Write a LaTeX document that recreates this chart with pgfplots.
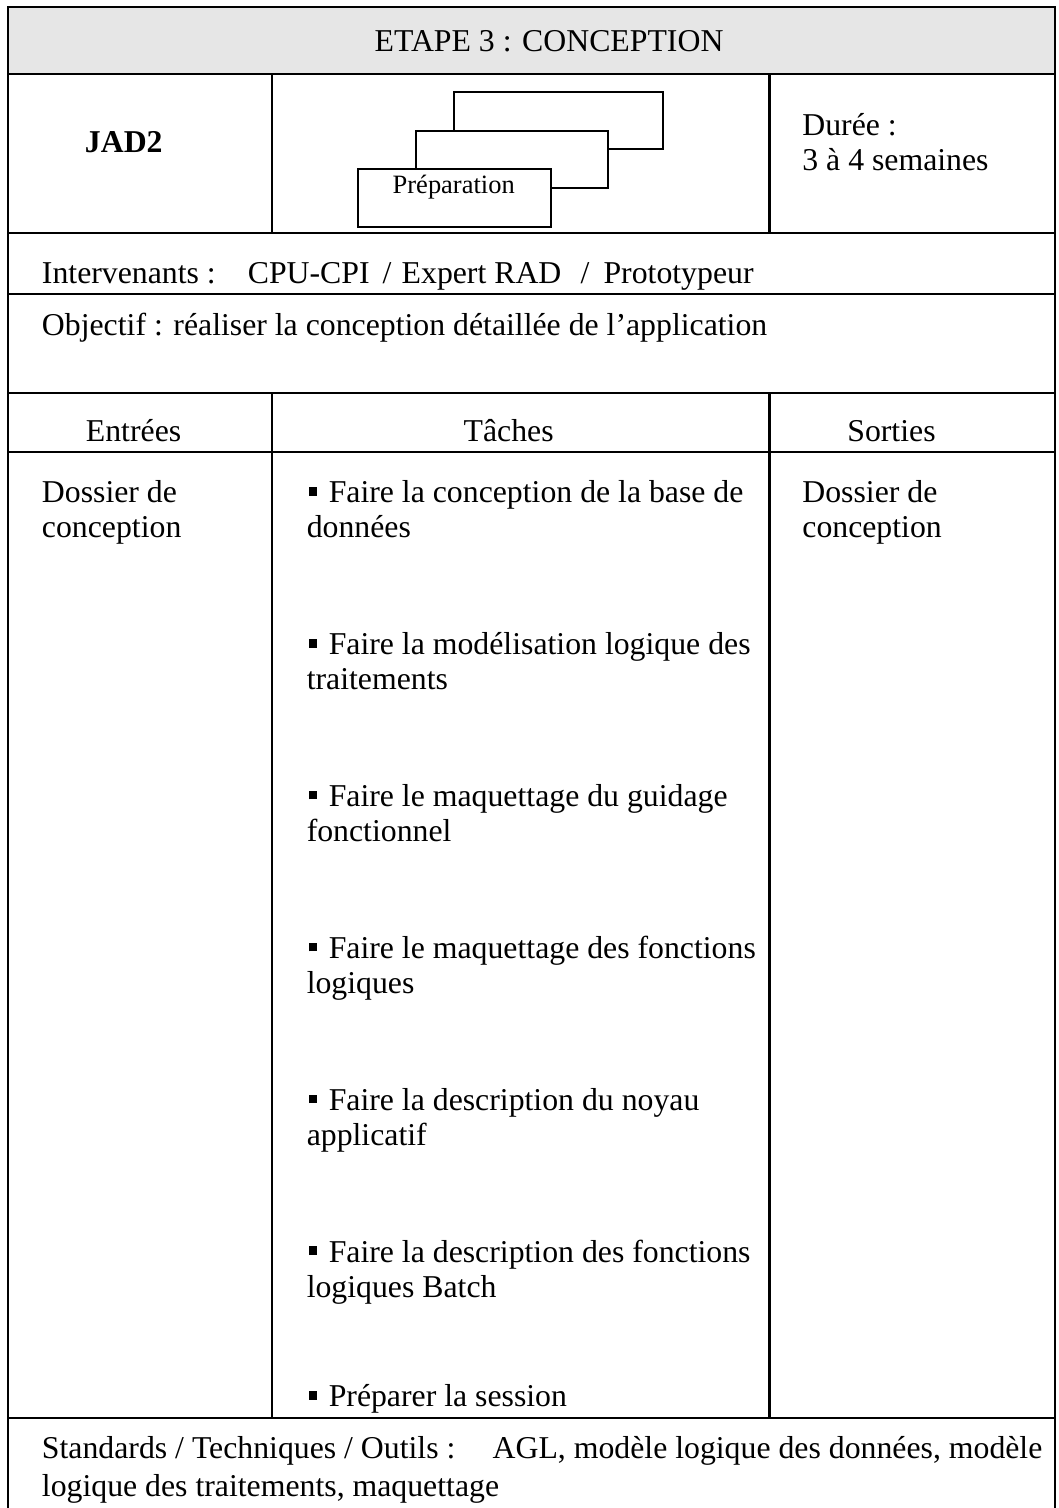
\documentclass[border=0pt]{standalone}
\usepackage{pgfplots}
\pgfplotsset{compat=1.18}
\usepackage{fontspec}
\setmainfont{Liberation Serif}
\definecolor{hdr}{RGB}{230,230,230}
\newcommand{\bul}{\raisebox{0.22em}{\rule{0.27em}{0.27em}}}
\tikzset{t/.style={anchor=base west, inner sep=0pt, outer sep=0pt, font=\fontsize{15.9}{17.5}\selectfont}}
\begin{document}
\fontsize{15.9}{17.5}\selectfont
\begin{tikzpicture}
\begin{axis}[
  width=529.5pt, height=754pt, scale only axis,
  xmin=0, xmax=1059, ymin=0, ymax=1508, y dir=reverse,
  hide axis, clip=false,
]
\path (axis cs:0,0) rectangle (axis cs:1059,1508);
% header
\fill[hdr] (axis cs:8,7) rectangle (axis cs:1056,74);
% table lines
\begin{scope}[line width=1.15pt, line cap=rect]
\draw (axis cs:8,1508) -- (axis cs:8,7) -- (axis cs:1056,7) -- (axis cs:1056,1508);
\draw (axis cs:8,74) -- (axis cs:1056,74);
\draw (axis cs:8,233) -- (axis cs:1056,233);
\draw (axis cs:8,294) -- (axis cs:1056,294);
\draw (axis cs:8,393) -- (axis cs:1056,393);
\draw (axis cs:8,452) -- (axis cs:1056,452);
\draw (axis cs:8,1419) -- (axis cs:1056,1419);
\draw (axis cs:272,74) -- (axis cs:272,233);
\draw (axis cs:770,74) -- (axis cs:770,233);
\draw (axis cs:272,393) -- (axis cs:272,1419);
\draw (axis cs:770,393) -- (axis cs:770,1419);
\end{scope}
% stacked rectangles
\begin{scope}[line width=1pt]
\filldraw[fill=white] (axis cs:454,92) rectangle (axis cs:664,149);
\filldraw[fill=white] (axis cs:416,131) rectangle (axis cs:608,188);
\filldraw[fill=white] (axis cs:358,169) rectangle (axis cs:551,227);
\end{scope}
\node[t, font=\fontsize{13.25}{15}\selectfont] at (axis cs:393,194) {Préparation};
% texts
\node[t] at (axis cs:375,52) {ETAPE 3 : CONCEPTION};
\node[t] at (axis cs:85,153) {\textbf{JAD2}};
\node[t] at (axis cs:803,136) {Durée :};
\node[t] at (axis cs:803,171) {3 à 4 semaines};
\node[t] at (axis cs:42,284) {Intervenants :};
\node[t] at (axis cs:248,284) {CPU-CPI};
\node[t] at (axis cs:383,284) {/};
\node[t] at (axis cs:402,284) {Expert RAD};
\node[t] at (axis cs:581,284) {/};
\node[t] at (axis cs:604,284) {Prototypeur};
\node[t] at (axis cs:42,336) {Objectif : réaliser la conception détaillée de l’application};
\node[t] at (axis cs:86,442) {Entrées};
\node[t, anchor=base] at (axis cs:509,442) {Tâches};
\node[t] at (axis cs:848,442) {Sorties};
\node[t] at (axis cs:42,503) {Dossier de};
\node[t] at (axis cs:42,538) {conception};
\node[t] at (axis cs:803,503) {Dossier de};
\node[t] at (axis cs:803,538) {conception};
% tasks
\node[t] at (axis cs:309,503) {\bul};
\node[t] at (axis cs:329,503) {Faire la conception de la base de};
\node[t] at (axis cs:307,538) {données};
\node[t] at (axis cs:309,655) {\bul};
\node[t] at (axis cs:329,655) {Faire la modélisation logique des};
\node[t] at (axis cs:307,690) {traitements};
\node[t] at (axis cs:309,807) {\bul};
\node[t] at (axis cs:329,807) {Faire le maquettage du guidage};
\node[t] at (axis cs:307,842) {fonctionnel};
\node[t] at (axis cs:309,959) {\bul};
\node[t] at (axis cs:329,959) {Faire le maquettage des fonctions};
\node[t] at (axis cs:307,994) {logiques};
\node[t] at (axis cs:309,1111) {\bul};
\node[t] at (axis cs:329,1111) {Faire la description du noyau};
\node[t] at (axis cs:307,1146) {applicatif};
\node[t] at (axis cs:309,1263) {\bul};
\node[t] at (axis cs:329,1263) {Faire la description des fonctions};
\node[t] at (axis cs:307,1298) {logiques Batch};
\node[t] at (axis cs:309,1408) {\bul};
\node[t] at (axis cs:329,1408) {Préparer la session};
% footer
\node[t] at (axis cs:42,1460) {Standards / Techniques / Outils :};
\node[t] at (axis cs:493,1460) {AGL, modèle logique des données, modèle};
\node[t] at (axis cs:42,1498) {logique des traitements, maquettage};
\end{axis}
\end{tikzpicture}
\end{document}
